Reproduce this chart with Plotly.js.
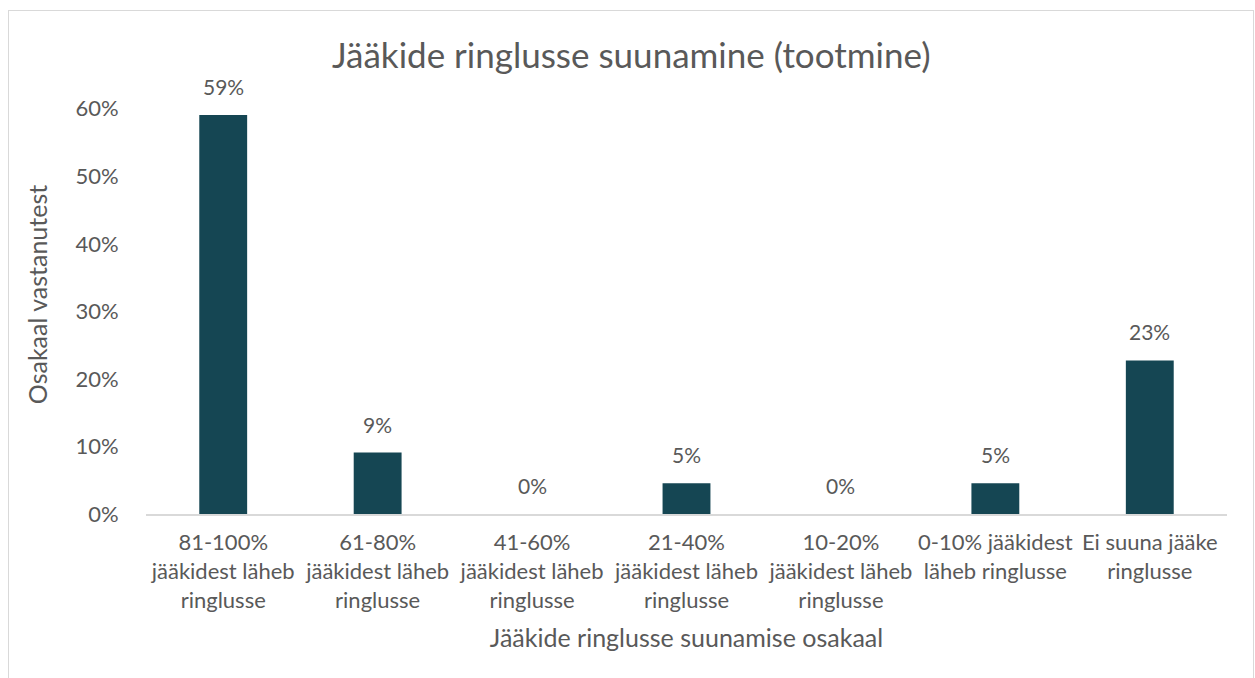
<!DOCTYPE html>
<html>
<head>
<meta charset="utf-8">
<script src="https://cdn.plot.ly/plotly-3.0.1.min.js"></script>
<style>
html,body{margin:0;padding:0;background:#fff;}
#wrap{position:relative;width:1255px;height:678px;overflow:hidden;}
#chart{width:1255px;height:678px;}
#frame{position:absolute;left:8px;top:10px;width:1244px;height:700px;border:1px solid #d9d9d9;pointer-events:none;}
</style>
</head>
<body>
<div id="wrap"><div id="chart"></div><div id="frame"></div></div>
<script>
const categories = [
  "81-100%<br>jääkidest läheb<br>ringlusse",
  "61-80%<br>jääkidest läheb<br>ringlusse",
  "41-60%<br>jääkidest läheb<br>ringlusse",
  "21-40%<br>jääkidest läheb<br>ringlusse",
  "10-20%<br>jääkidest läheb<br>ringlusse",
  "0-10% jääkidest<br>läheb ringlusse",
  "Ei suuna jääke<br>ringlusse"
];
const shares = [0.5909, 0.0909, 0, 0.0455, 0, 0.0455, 0.2273];
const yTickVals = [0, 0.1, 0.2, 0.3, 0.4, 0.5, 0.6];
const yTickText = ["0%", "10%", "20%", "30%", "40%", "50%", "60%"];

const FONT = "Lato, 'Open Sans', sans-serif";
const TXT = "#595959";

const trace = {
  type: "bar",
  x: categories,
  y: shares,
  width: 0.31,
  marker: {color: "#154653"},
  hoverinfo: "x+y"
};

const labels = categories.map((c, i) => ({
  x: c, y: shares[i], xref: "x", yref: "y",
  text: Math.round(shares[i] * 100) + "%",
  showarrow: false, yanchor: "bottom", yshift: 14,
  font: {family: FONT, size: 21, color: TXT}
}));

const layout = {
  width: 1255, height: 678,
  margin: {l: 146, r: 28, t: 75, b: 164},
  paper_bgcolor: "#ffffff",
  plot_bgcolor: "#ffffff",
  font: {family: FONT, color: TXT, size: 21},
  title: {text: "Jääkide ringlusse suunamine (tootmine)", font: {family: FONT, size: 35, color: TXT}, x: 0.503, xanchor: "center", y: 0.918, yanchor: "middle"},
  showlegend: false,
  annotations: labels,
  xaxis: {
    type: "category",
    showline: true, linecolor: "#d9d9d9", linewidth: 2,
    showgrid: false, zeroline: false,
    ticks: "outside", ticklen: 8, tickcolor: "rgba(0,0,0,0)",
    tickfont: {family: FONT, size: 22, color: TXT},
    tickangle: 0,
    title: {text: "Jääkide ringlusse suunamise osakaal", font: {family: FONT, size: 25, color: TXT}, standoff: 18}
  },
  yaxis: {
    range: [0, 0.65],
    tickvals: yTickVals, ticktext: yTickText,
    showline: false, showgrid: false, zeroline: false,
    ticks: "outside", ticklen: 22, tickcolor: "rgba(0,0,0,0)",
    tickfont: {family: FONT, size: 22, color: TXT},
    title: {text: "Osakaal vastanutest", font: {family: FONT, size: 25, color: TXT}, standoff: 20}
  }
};

Plotly.newPlot("chart", [trace], layout, {displayModeBar: false, staticPlot: true});
</script>
</body>
</html>
